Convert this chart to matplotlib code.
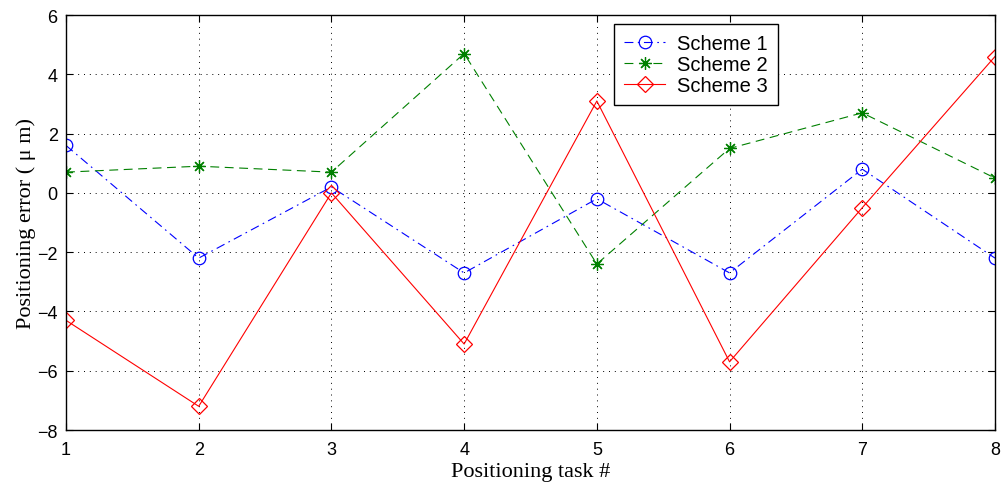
import matplotlib
matplotlib.use("Agg")
import matplotlib.pyplot as plt

tasks = [1, 2, 3, 4, 5, 6, 7, 8]
scheme1 = [1.6, -2.2, 0.2, -2.7, -0.2, -2.7, 0.8, -2.2]
scheme2 = [0.7, 0.9, 0.7, 4.7, -2.4, 1.5, 2.7, 0.5]
scheme3 = [-4.3, -7.2, 0.0, -5.1, 3.1, -5.7, -0.5, 4.6]
labels = ["Scheme 1", "Scheme 2", "Scheme 3"]
yticks = [-8, -6, -4, -2, 0, 2, 4, 6]

fig = plt.figure(figsize=(10.03, 4.89), dpi=100)
ax = fig.add_axes([0.0658, 0.1186, 0.9262, 0.8486])

ax.plot(tasks, scheme1, color=(0, 0, 1), linestyle=(0, (8, 4, 1.5, 4)), lw=0.8,
        marker='o', markersize=9, markerfacecolor='none', markeredgewidth=0.9, label=labels[0])
ax.plot(tasks, scheme2, color=(0, 0.5, 0), linestyle=(0, (8, 5)), lw=0.8,
        marker=(8, 2, 0), markersize=9, markeredgewidth=0.9, label=labels[1])
ax.plot(tasks, scheme3, color=(1, 0, 0), linestyle='-', lw=0.8,
        marker='D', markersize=8, markerfacecolor='none', markeredgewidth=0.9, label=labels[2])

ax.set_xlim(1, 8)
ax.set_ylim(-8, 6)
ax.set_xticks(tasks)
ax.set_yticks(yticks)
ax.grid(True, color='black', linestyle=(0, (1, 5)), lw=0.7)
ax.tick_params(direction='in', top=True, right=True, length=5, width=0.8,
               labelsize=13)
ax.tick_params(axis='x', pad=8)
ax.tick_params(axis='y', pad=6)
for lab in ax.get_xticklabels() + ax.get_yticklabels():
    lab.set_fontfamily('Liberation Sans')
for s in ax.spines.values():
    s.set_linewidth(1.0)

ax.set_xlabel("Positioning task #", fontfamily='Liberation Serif', fontsize=16, labelpad=3)
ax.set_ylabel("Positioning error ( μ m)", fontfamily='Liberation Serif', fontsize=16, labelpad=1)

leg = ax.legend(loc='upper right', bbox_to_anchor=(0.766, 0.978), borderaxespad=0,
                fancybox=False, edgecolor='black', framealpha=1,
                prop={'family': 'Liberation Sans', 'size': 14.5},
                handlelength=2.0, borderpad=0.5, labelspacing=0.1, handletextpad=0.6)
leg.get_frame().set_linewidth(1.0)

fig.savefig("out.png", dpi=100)
